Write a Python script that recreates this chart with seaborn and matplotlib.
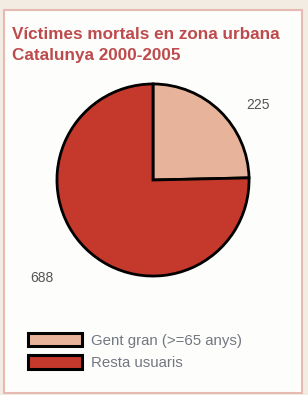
import matplotlib.pyplot as plt
import seaborn as sns
from matplotlib.patches import Rectangle

categories = ["Gent gran (>=65 anys)", "Resta usuaris"]
values = [225, 688]
title = "Víctimes mortals en zona urbana\nCatalunya 2000-2005"

sns.set_style("white")
plt.rcParams["font.family"] = ["Liberation Sans", "DejaVu Sans"]

colors = ["#e8b39b", "#c4392c"]
title_color = "#bd4a4c"

fig = plt.figure(figsize=(3.08, 3.95), dpi=100)
fig.patch.set_facecolor("#f3ece2")

# white panel with pink border
fig.patches.append(Rectangle((4 / 308, 2 / 395), 298 / 308, 383 / 395,
                             transform=fig.transFigure, facecolor="#fdfdfc",
                             edgecolor="#e6b9b3", linewidth=1.5, zorder=-5))

fig.text(12 / 308, 1 - 27 / 395, title, color=title_color, fontsize=12.3,
         fontweight="bold", va="top", ha="left", linespacing=1.5)

ax = fig.add_axes([56 / 308, 1 - 277 / 395, 194 / 308, 194 / 395])
wedges, _ = ax.pie(values, colors=colors, startangle=90, counterclock=False,
                   wedgeprops=dict(edgecolor="black", linewidth=2))
ax.set(xlim=(-1.01, 1.01), ylim=(-1.01, 1.01))
ax.set_aspect("equal")
ax.axis("off")

fig.text(258 / 308, 1 - 105 / 395, str(values[0]), color="#555555",
         fontsize=10, ha="center", va="center")
fig.text(42 / 308, 1 - 278 / 395, str(values[1]), color="#555555",
         fontsize=10, ha="center", va="center")

leg = fig.legend(wedges, categories, loc="upper left",
                 bbox_to_anchor=(28 / 308, 1 - 333 / 395), frameon=False,
                 fontsize=10.8, handlelength=3.6, handleheight=1.0,
                 labelspacing=0.5, handletextpad=0.6, borderaxespad=0,
                 borderpad=0)
for t in leg.get_texts():
    t.set_color("#737780")
for h in leg.legend_handles:
    h.set_linewidth(2.2)

fig.savefig("out.png", dpi=100, facecolor=fig.get_facecolor())
